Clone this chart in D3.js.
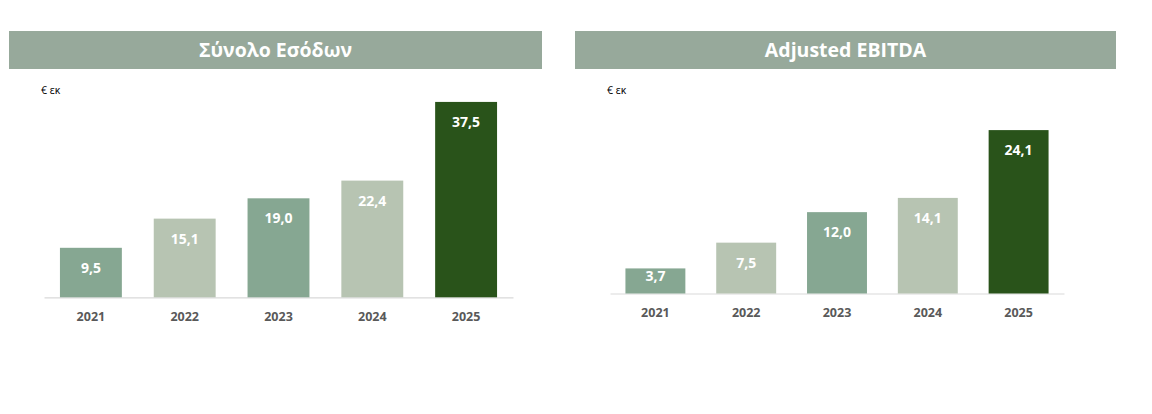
<!DOCTYPE html>
<html>
<head>
<meta charset="utf-8">
<script src="https://cdn.jsdelivr.net/npm/d3@7"></script>
<style>
  html, body { margin: 0; padding: 0; background: #ffffff; }
  svg { display: block; }
</style>
</head>
<body>
<svg id="chart" width="1152" height="414"></svg>
<script>
// ---- Data ----
const years = ["2021", "2022", "2023", "2024", "2025"];
const revenue = [9.5, 15.1, 19.0, 22.4, 37.5];
const ebitda = [3.7, 7.5, 12.0, 14.1, 24.1];
const panelTitles = ["Σύνολο Εσόδων", "Adjusted EBITDA"];
const unitLabel = "€ εκ";

// ---- Style ----
const barColors = ["#86a792", "#b7c4b2", "#86a792", "#b7c4b2", "#29531a"];
const titleBg = "#97a99b";
const font = "'Open Sans', 'DejaVu Sans', sans-serif";

const svg = d3.select("#chart");

const panels = [
  { values: revenue, title: panelTitles[0],
    bar: [9, 31, 533, 38], unitPos: [41, 90],
    xRange: [44, 513], base: 297.3, yMax: 40, yTop: 88.9 },
  { values: ebitda, title: panelTitles[1],
    bar: [575, 31, 541, 38], unitPos: [607, 90],
    xRange: [610, 1064], base: 293.5, yMax: 25, yTop: 124 }
];

const fmt = v => v.toFixed(1).replace(".", ",");

panels.forEach(p => {
  const g = svg.append("g");

  // title bar
  g.append("rect")
    .attr("x", p.bar[0]).attr("y", p.bar[1])
    .attr("width", p.bar[2]).attr("height", p.bar[3])
    .attr("fill", titleBg);
  g.append("text")
    .attr("x", p.bar[0] + p.bar[2] / 2)
    .attr("y", p.bar[1] + p.bar[3] / 2)
    .attr("dy", "0.36em")
    .attr("text-anchor", "middle")
    .attr("fill", "#ffffff")
    .attr("font-family", font)
    .attr("font-weight", "bold")
    .attr("font-size", 19.5)
    .text(p.title);

  // unit label
  g.append("text")
    .attr("x", p.unitPos[0]).attr("y", p.unitPos[1])
    .attr("dy", "0.35em")
    .attr("fill", "#000000")
    .attr("font-family", font)
    .attr("font-size", 10.5)
    .text(unitLabel);

  const x = d3.scaleBand()
    .domain(years)
    .range(p.xRange)
    .paddingInner(0.34)
    .paddingOuter(0.17);

  const y = d3.scaleLinear()
    .domain([0, p.yMax])
    .range([p.base, p.yTop]);

  // axis
  const axis = g.append("g")
    .attr("transform", `translate(0,${p.base})`)
    .call(d3.axisBottom(x).tickSize(0).tickSizeOuter(0).tickPadding(15));
  axis.select(".domain").attr("stroke", "#d9d9d9").attr("stroke-width", 1.2);
  axis.selectAll(".tick text")
    .attr("fill", "#595959")
    .attr("font-family", font)
    .attr("font-weight", "bold")
    .attr("font-size", 12.5);

  const data = years.map((yr, i) => ({ year: yr, value: p.values[i], color: barColors[i] }));

  g.selectAll("rect.bar")
    .data(data)
    .join("rect")
    .attr("class", "bar")
    .attr("x", d => x(d.year))
    .attr("width", x.bandwidth())
    .attr("y", d => y(d.value))
    .attr("height", d => y(0) - y(d.value))
    .attr("fill", d => d.color);

  g.selectAll("text.val")
    .data(data)
    .join("text")
    .attr("class", "val")
    .attr("x", d => x(d.year) + x.bandwidth() / 2)
    .attr("y", d => Math.min(y(d.value) + 20, y(0) - 18))
    .attr("dy", "0.36em")
    .attr("text-anchor", "middle")
    .attr("fill", "#ffffff")
    .attr("font-family", font)
    .attr("font-weight", "bold")
    .attr("font-size", 14)
    .text(d => fmt(d.value));
});
</script>
</body>
</html>
